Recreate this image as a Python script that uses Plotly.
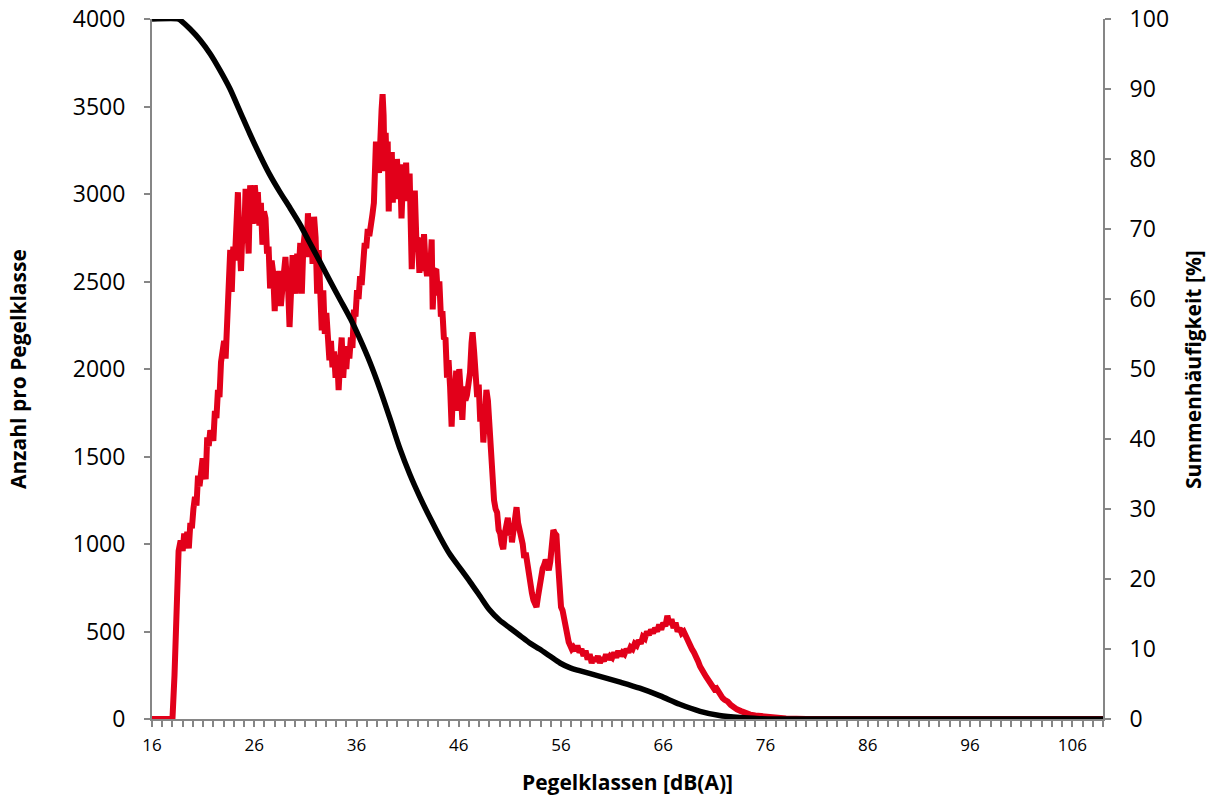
import plotly.graph_objects as go

# ---- data ----
red_db = [16.0, 18.0, 18.2, 18.4, 18.6, 18.8, 19.0, 19.15, 19.3, 19.45, 19.6, 19.75, 19.9, 20.05, 20.2, 20.35,
          20.5, 20.65, 20.8, 20.95, 21.1, 21.25, 21.4, 21.55, 21.7, 21.85, 22.0, 22.15, 22.3, 22.45, 22.6, 22.75,
          22.9, 23.05, 23.2, 23.35, 23.5, 23.65, 23.8, 23.95, 24.1, 24.25, 24.4, 24.55, 24.7, 24.85, 25.0, 25.15,
          25.3, 25.45, 25.6, 25.75, 25.9, 26.05, 26.2, 26.35, 26.5, 26.65, 26.8, 26.95, 27.1, 27.25, 27.4, 27.55,
          27.7, 27.85, 28.0, 28.15, 28.3, 28.45, 28.6, 28.75, 28.9, 29.05, 29.2, 29.3, 29.45, 29.6, 29.75, 29.9,
          30.05, 30.2, 30.35, 30.5, 30.65, 30.8, 30.95, 31.1, 31.25, 31.4, 31.55, 31.7, 31.85, 32.0, 32.15, 32.3,
          32.45, 32.6, 32.75, 32.9, 33.05, 33.2, 33.35, 33.5, 33.65, 33.8, 33.95, 34.1, 34.25, 34.4, 34.55, 34.7,
          34.85, 35.0, 35.15, 35.3, 35.45, 35.6, 35.75, 35.9, 36.05, 36.2, 36.35, 36.5, 36.65, 36.8, 36.95, 37.1,
          37.25, 37.4, 37.55, 37.7, 37.8, 37.9, 38.0, 38.1, 38.2, 38.3, 38.45, 38.55, 38.65, 38.75, 38.85, 38.95,
          39.05, 39.15, 39.25, 39.35, 39.45, 39.55, 39.65, 39.8, 39.95, 40.1, 40.25, 40.4, 40.55, 40.7, 40.85, 40.95,
          41.05, 41.2, 41.4, 41.55, 41.7, 41.85, 42.0, 42.15, 42.3, 42.45, 42.6, 42.75, 42.9, 43.05, 43.2, 43.35,
          43.45, 43.6, 43.8, 43.95, 44.1, 44.25, 44.4, 44.55, 44.7, 44.85, 45.0, 45.15, 45.3, 45.45, 45.6, 45.75,
          45.9, 46.05, 46.2, 46.35, 46.5, 46.65, 46.8, 46.95, 47.1, 47.25, 47.35, 47.5, 47.65, 47.8, 47.95, 48.1,
          48.25, 48.4, 48.55, 48.7, 48.85, 49.0, 49.15, 49.3, 49.45, 49.6, 49.75, 49.9, 50.05, 50.2, 50.35, 50.5,
          50.65, 50.8, 50.95, 51.1, 51.2, 51.35, 51.5, 51.65, 51.8, 51.95, 52.1, 52.25, 52.4, 52.55, 52.7, 52.85,
          53.0, 53.15, 53.3, 53.45, 53.6, 53.75, 53.9, 54.05, 54.2, 54.35, 54.5, 54.65, 54.8, 54.95, 55.1, 55.25,
          55.4, 55.55, 55.7, 55.85, 56.0, 56.15, 56.3, 56.45, 56.6, 56.75, 56.9, 57.05, 57.2, 57.4, 57.6, 57.8,
          58.0, 58.2, 58.4, 58.6, 58.8, 59.0, 59.2, 59.4, 59.6, 59.8, 60.0, 60.2, 60.4, 60.6, 60.8, 61.0,
          61.2, 61.4, 61.6, 61.8, 62.0, 62.2, 62.4, 62.6, 62.8, 63.0, 63.2, 63.4, 63.6, 63.8, 64.0, 64.2,
          64.4, 64.6, 64.8, 65.0, 65.2, 65.4, 65.6, 65.8, 66.0, 66.2, 66.4, 66.6, 66.8, 67.0, 67.2, 67.4,
          67.6, 67.8, 68.0, 68.2, 68.4, 68.6, 68.8, 69.0, 69.2, 69.4, 69.6, 69.8, 70.0, 70.2, 70.4, 70.6,
          70.8, 71.0, 71.2, 71.4, 71.6, 71.8, 72.0, 72.3, 72.6, 72.9, 73.2, 73.6, 74.0, 74.5, 75.0, 75.6,
          76.3, 77.0, 78.0, 79.0, 80.0, 109.0]

red_count = [0, 0, 250, 700, 960, 1020, 960, 1060, 990, 1070, 975, 1120, 1090, 1200, 1270, 1220,
             1390, 1330, 1400, 1490, 1430, 1370, 1610, 1560, 1650, 1600, 1590, 1760, 1720, 1880, 1840, 2040,
             2100, 2160, 2060, 2300, 2470, 2680, 2440, 2700, 2620, 2900, 3010, 2750, 2560, 2800, 2720, 3030,
             2900, 2660, 3050, 2900, 2830, 3050, 2950, 3010, 2820, 2950, 2710, 2900, 2860, 2660, 2700, 2460,
             2620, 2550, 2330, 2560, 2400, 2560, 2360, 2460, 2600, 2640, 2480, 2480, 2240, 2560, 2650, 2580,
             2430, 2660, 2560, 2720, 2430, 2700, 2780, 2640, 2890, 2700, 2840, 2600, 2870, 2750, 2430, 2680,
             2500, 2220, 2450, 2200, 2320, 2180, 2050, 2160, 2010, 2100, 1950, 2080, 1880, 2050, 2180, 1950,
             2100, 2000, 2130, 2060, 2180, 2120, 2340, 2300, 2450, 2400, 2530, 2480, 2620, 2720, 2690, 2800,
             2760, 2870, 2880, 2950, 3200, 3300, 3150, 3250, 3120, 3400, 3480, 3570, 3450, 3130, 3350, 3140,
             3300, 2900, 3200, 3150, 3240, 2950, 3180, 2970, 3200, 3050, 3170, 2860, 3100, 2960, 3180, 3000,
             3100, 3100, 2570, 2950, 3020, 2740, 2750, 2550, 2650, 2560, 2770, 2600, 2530, 2640, 2560, 2740,
             2340, 2560, 2570, 2420, 2500, 2300, 2330, 2170, 2180, 1950, 2050, 1900, 1670, 1900, 1850, 1990,
             1760, 2000, 1820, 1710, 1900, 1820, 1850, 1900, 1980, 2150, 2210, 2100, 1900, 1840, 1910, 1700,
             1800, 1580, 1720, 1880, 1820, 1640, 1450, 1310, 1250, 1200, 1180, 1080, 1060, 1000, 970, 1060,
             1100, 1150, 1050, 1100, 1010, 1100, 1150, 1210, 1120, 1050, 1040, 1000, 920, 950, 880, 800,
             780, 720, 680, 650, 640, 700, 760, 800, 860, 880, 910, 890, 850, 900, 1000, 1080,
             1060, 1050, 900, 700, 640, 620, 570, 560, 500, 440, 420, 400, 410, 390, 420, 380,
             400, 360, 390, 340, 370, 320, 350, 330, 360, 320, 350, 330, 370, 340, 360, 350,
             380, 350, 390, 360, 380, 370, 400, 380, 410, 400, 430, 420, 450, 430, 470, 460,
             500, 480, 510, 490, 520, 500, 540, 510, 550, 530, 590, 540, 570, 520, 550, 500,
             520, 490, 500, 470, 460, 420, 400, 380, 340, 330, 300, 270, 260, 240, 220, 200,
             190, 170, 175, 150, 135, 120, 110, 100, 80, 65, 55, 45, 35, 25, 20, 15,
             10, 6, 3, 1, 0, 0]

cum_db = [16.0, 18.6, 18.8, 19.7, 20.7, 21.7, 22.6, 23.6, 24.6, 25.6, 26.6, 27.5, 28.5, 29.5, 30.5, 31.4,
          32.4, 33.4, 34.4, 35.4, 36.3, 37.3, 38.3, 39.3, 40.2, 41.2, 42.2, 43.2, 44.2, 45.1, 46.1, 47.1,
          48.1, 49.0, 50.0, 51.0, 52.0, 52.9, 53.9, 54.9, 55.9, 56.9, 57.8, 59.8, 61.7, 63.7, 65.7, 67.6,
          69.6, 71.5, 73.5, 75.4, 77.0, 109.0]
cum_pct = [100, 100, 99.8, 98.6, 97.0, 95.0, 92.8, 90.1, 86.8, 83.5, 80.4, 77.8, 75.3, 73.0, 70.6, 68.1,
           65.4, 62.6, 59.9, 57.2, 54.4, 51.0, 47.1, 42.8, 38.8, 35.0, 31.7, 28.7, 25.9, 23.6, 21.6, 19.6,
           17.5, 15.6, 14.1, 13.0, 11.9, 10.9, 10.0, 9.0, 8.0, 7.3, 6.9, 6.1, 5.3, 4.4, 3.3, 2.1,
           1.1, 0.5, 0.2, 0.05, 0, 0]

x_ticks = [16, 26, 36, 46, 56, 66, 76, 86, 96, 106]
y_left_ticks = [0, 500, 1000, 1500, 2000, 2500, 3000, 3500, 4000]
y_right_ticks = [0, 10, 20, 30, 40, 50, 60, 70, 80, 90, 100]

AX = "#868686"
FONT = "Open Sans"

fig = go.Figure()
fig.add_trace(go.Scatter(x=red_db, y=red_count, mode="lines", yaxis="y",
                         line=dict(color="#E2001A", width=6), showlegend=False))
fig.add_trace(go.Scatter(x=cum_db, y=cum_pct, mode="lines", yaxis="y2",
                         line=dict(color="#000000", width=5.5, shape="spline", smoothing=0.8),
                         showlegend=False))

fig.update_layout(
    width=1211, height=798,
    margin=dict(l=152, r=108, t=19, b=79, autoexpand=False),
    paper_bgcolor="white", plot_bgcolor="white",
    font=dict(family=FONT, color="black"),
    xaxis=dict(range=[16, 109], showgrid=False, zeroline=False, showline=True, automargin=False,
               linecolor=AX, linewidth=2, ticks="outside", ticklen=6, tickcolor=AX, tickwidth=2,
               tickvals=x_ticks, ticktext=[str(v) for v in x_ticks],
               tickfont=dict(size=17, family=FONT), ticklabelstandoff=4,
               minor=dict(dtick=1, tick0=16, ticks="outside", ticklen=6, tickcolor=AX, tickwidth=2)),
    yaxis=dict(range=[0, 4000], showgrid=False, zeroline=False, showline=True, automargin=False,
               linecolor=AX, linewidth=2, ticks="outside", ticklen=6, tickcolor=AX, tickwidth=2,
               tickvals=y_left_ticks, tickfont=dict(size=23, family=FONT), ticklabelstandoff=14),
    yaxis2=dict(range=[0, 100], overlaying="y", side="right", showgrid=False, zeroline=False,
                showline=True, automargin=False, linecolor=AX, linewidth=2, ticks="outside",
                ticklen=6, tickcolor=AX, tickwidth=2, tickvals=y_right_ticks,
                tickfont=dict(size=23, family=FONT), ticklabelstandoff=14),
    annotations=[
        dict(text="<b>Pegelklassen [dB(A)]</b>", xref="paper", yref="paper", x=0.5, y=-0.0905,
             xanchor="center", yanchor="middle", showarrow=False, font=dict(size=21, family=FONT)),
        dict(text="<b>Anzahl pro Pegelklasse</b>", xref="paper", yref="paper", x=-0.1409, y=0.5,
             xanchor="center", yanchor="middle", textangle=-90, showarrow=False,
             font=dict(size=21, family=FONT)),
        dict(text="<b>Summenhäufigkeit [%]</b>", xref="paper", yref="paper", x=1.0946, y=0.5,
             xanchor="center", yanchor="middle", textangle=-90, showarrow=False,
             font=dict(size=21, family=FONT)),
    ],
)

fig.write_html("out.html")
